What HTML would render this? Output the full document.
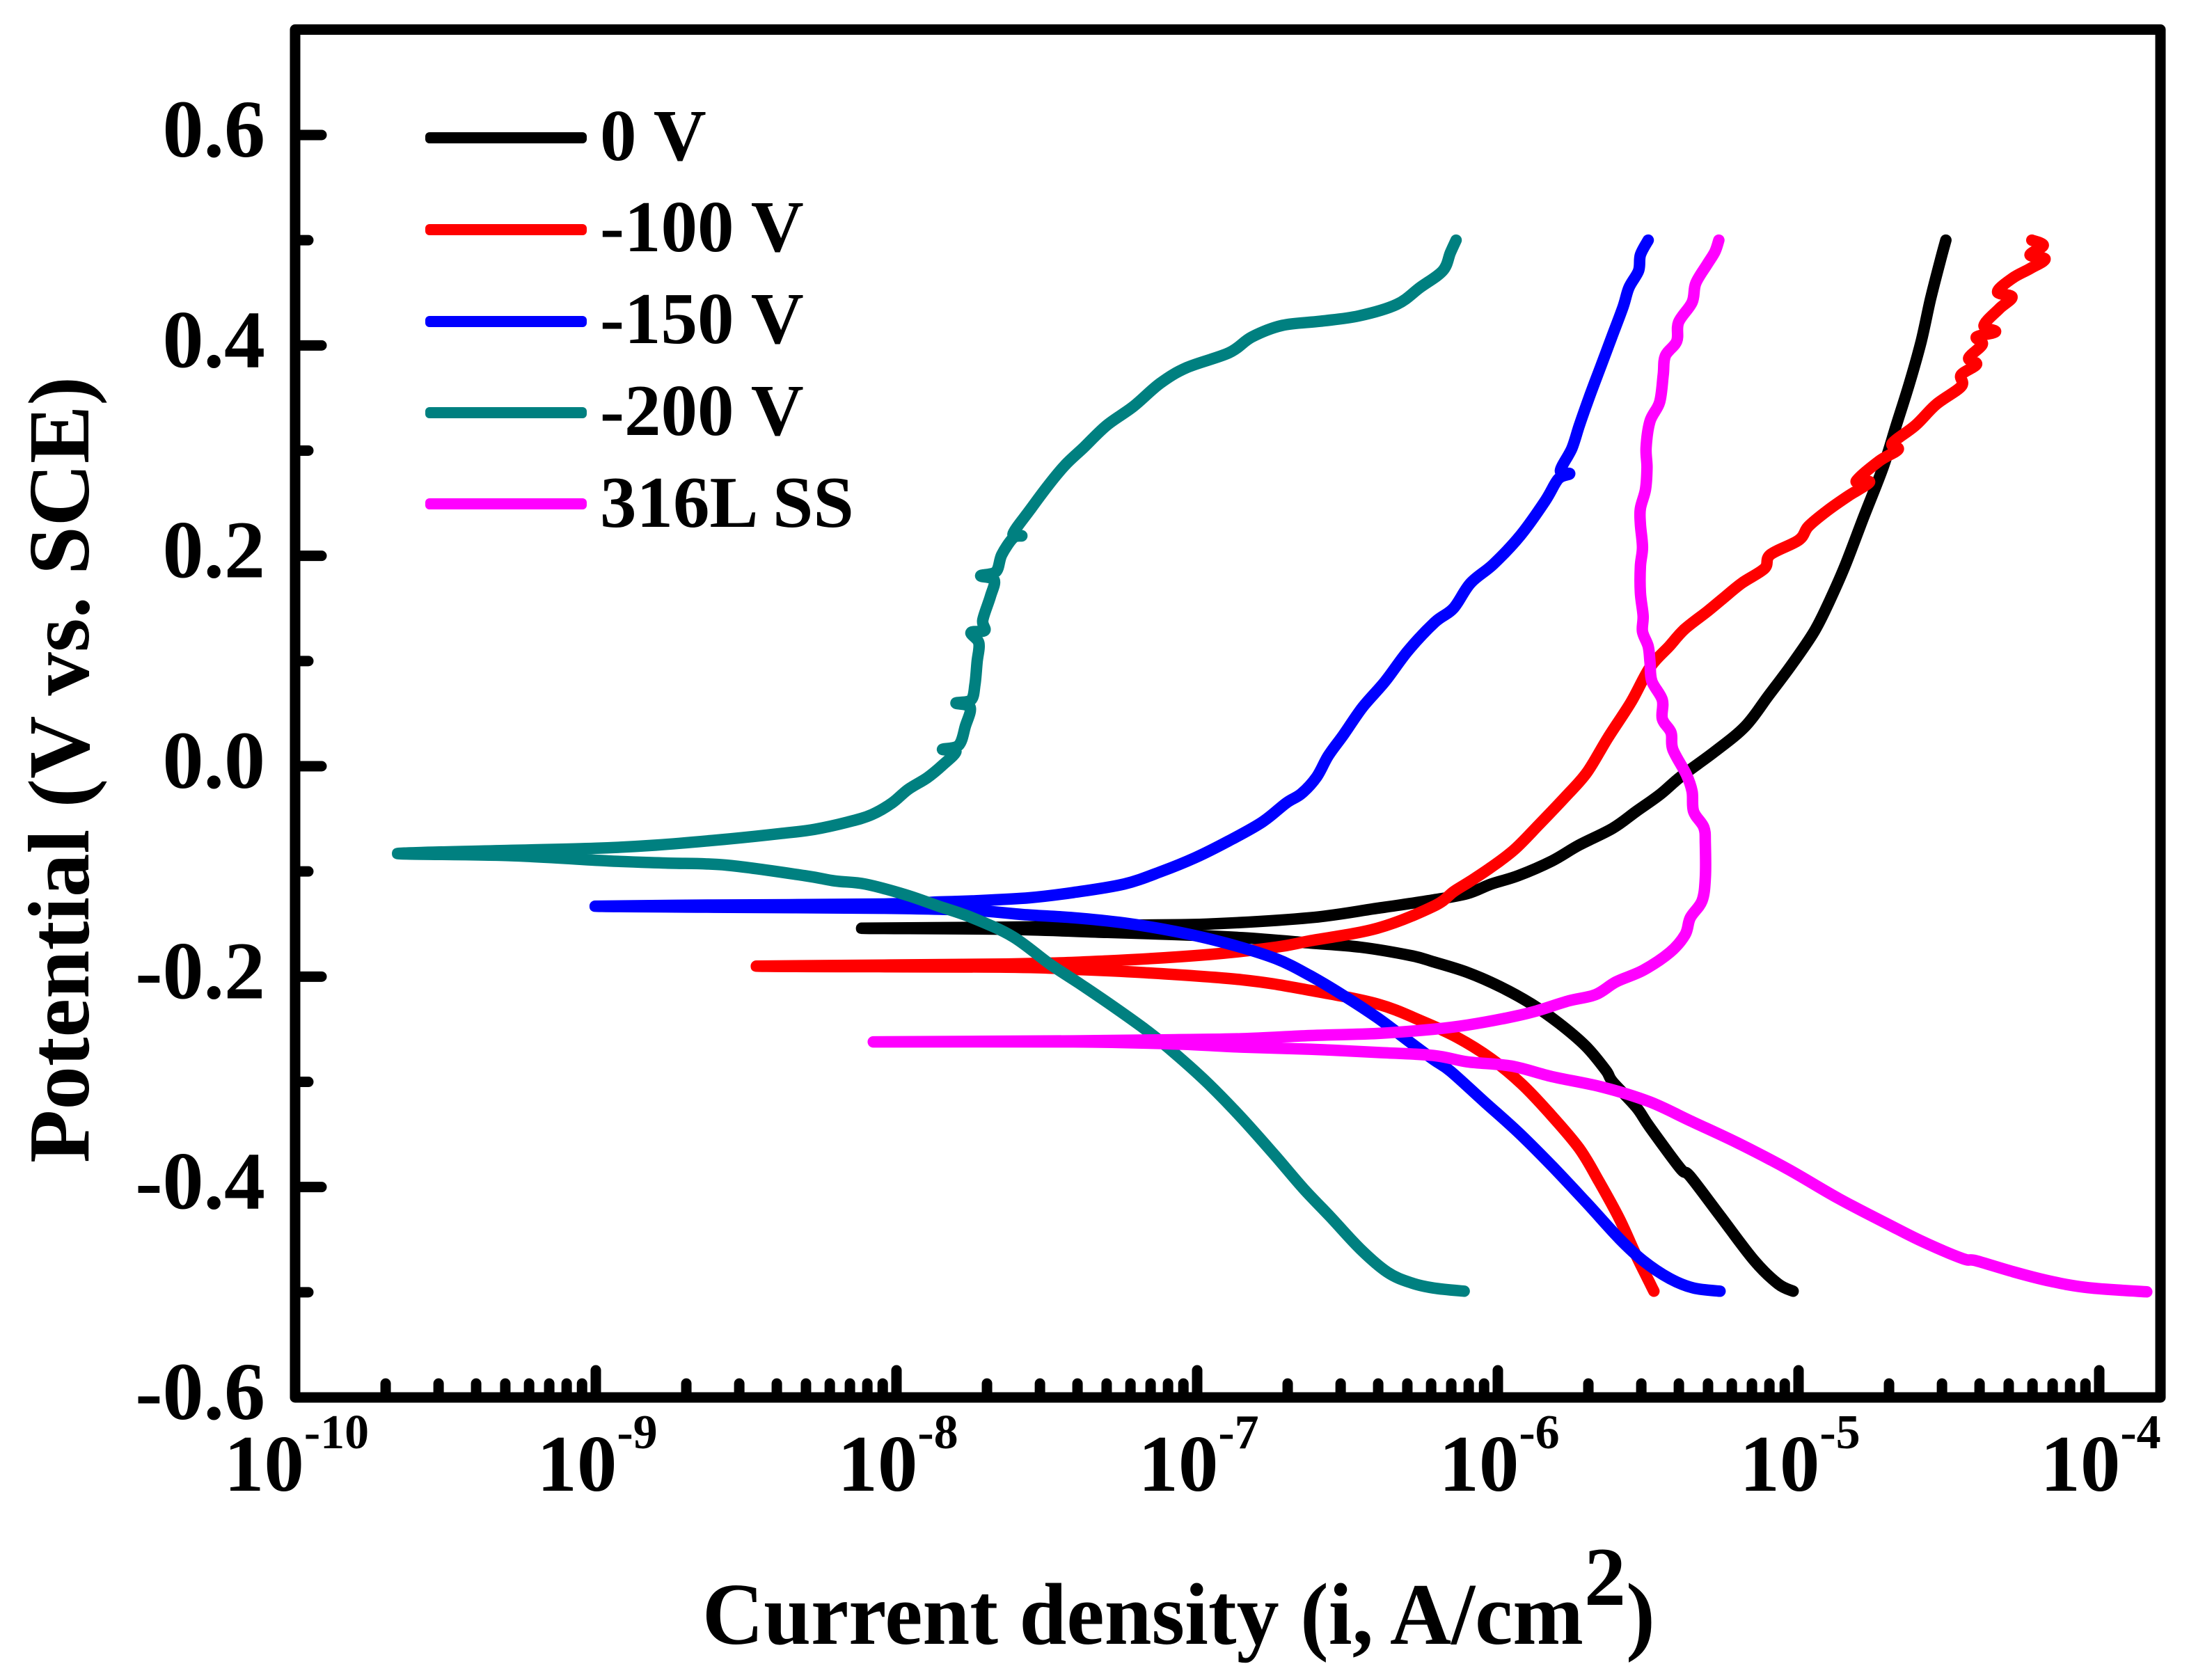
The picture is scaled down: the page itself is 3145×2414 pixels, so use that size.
<!DOCTYPE html>
<html lang="en">
<head>
<meta charset="utf-8">
<title>Potentiodynamic polarization curves</title>
<style>
html,body{margin:0;padding:0;background:#fff;}
svg{display:block;}
text{font-family:"Liberation Serif",serif;font-weight:bold;fill:#000;}
</style>
</head>
<body>
<svg id="chart" xmlns="http://www.w3.org/2000/svg" width="3145" height="2414" viewBox="0 0 3145 2414">
  <rect x="0" y="0" width="3145" height="2414" fill="#fff"/>
  <g id="series-layer"></g>
  <g id="tick-layer"></g>
  <rect x="424" y="42.5" width="2680" height="1965.5" fill="none" stroke="#000" stroke-width="15" stroke-linejoin="round"/>
  <g id="label-layer"></g>

  <g>
    <g>
      <rect x="611" y="190" width="232" height="16" rx="6" fill="#000000"/>
      <text x="862" y="230" font-size="105">0 V</text>
    </g>
    <g>
      <rect x="611" y="322" width="232" height="16" rx="6" fill="#ff0000"/>
      <text x="862" y="361" font-size="105">-100 V</text>
    </g>
    <g>
      <rect x="611" y="454" width="232" height="16" rx="6" fill="#0000ff"/>
      <text x="862" y="493" font-size="105">-150 V</text>
    </g>
    <g>
      <rect x="611" y="585" width="232" height="16" rx="6" fill="#008080"/>
      <text x="862" y="625" font-size="105">-200 V</text>
    </g>
    <g>
      <rect x="611" y="716" width="232" height="16" rx="6" fill="#ff00ff"/>
      <text x="862" y="757" font-size="105">316L SS</text>
    </g>
  </g>

  <text transform="translate(127,1106) rotate(-90)" text-anchor="middle" font-size="125" textLength="1130" lengthAdjust="spacingAndGlyphs">Potential (V vs. SCE)</text>
  <g>
    <text x="1009" y="2362" font-size="126" textLength="1266" lengthAdjust="spacingAndGlyphs">Current density (i, A/cm</text>
    <text x="2276" y="2306" font-size="120">2</text>
    <text x="2336" y="2362" font-size="126">)</text>
  </g>
</svg>

<script>
// Tick values and labels
const yMajorTicks = [0.6, 0.4, 0.2, 0, -0.2, -0.4, -0.6];
const yMajorLabels = ["0.6", "0.4", "0.2", "0.0", "-0.2", "-0.4", "-0.6"];
const yMinorTicks = [0.5, 0.3, 0.1, -0.1, -0.3, -0.5];
const xDecades = [-10, -9, -8, -7, -6, -5, -4];
const xMinorMultiples = [2, 3, 4, 5, 6, 7, 8, 9];

// Series: log10(current density, A/cm2) and potential (V vs. SCE)
const logCurrent0V = [-5.018,-5.068,-5.147,-5.259,-5.360,-5.394,-5.495,-5.540,-5.618,-5.641,-5.708,-5.798,-5.888,-5.989,-6.101,-6.213,-6.289,-6.457,-6.625,-6.850,-7.074,-7.299,-7.636,-8.116,-7.636,-7.187,-6.962,-6.625,-6.401,-6.213,-6.101,-6.022,-5.932,-5.820,-5.730,-5.618,-5.540,-5.461,-5.392,-5.278,-5.177,-5.100,-5.024,-4.948,-4.897,-4.846,-4.783,-4.719,-4.675,-4.631,-4.592,-4.561,-4.529,-4.510];
const potential0V = [-0.499,-0.492,-0.470,-0.428,-0.390,-0.382,-0.343,-0.324,-0.300,-0.289,-0.266,-0.244,-0.226,-0.210,-0.196,-0.186,-0.180,-0.172,-0.168,-0.163,-0.160,-0.158,-0.155,-0.154,-0.153,-0.151,-0.150,-0.144,-0.135,-0.127,-0.121,-0.112,-0.104,-0.090,-0.075,-0.059,-0.043,-0.027,-0.010,0.014,0.038,0.067,0.096,0.128,0.157,0.190,0.237,0.284,0.324,0.364,0.404,0.444,0.480,0.500];

const logCurrent100V = [-5.481,-5.495,-5.540,-5.596,-5.663,-5.730,-5.831,-5.921,-6.022,-6.134,-6.255,-6.401,-6.625,-6.850,-7.187,-7.411,-7.636,-8.466,-7.636,-7.299,-6.962,-6.738,-6.625,-6.401,-6.213,-6.146,-6.090,-6.022,-5.944,-5.865,-5.775,-5.704,-5.634,-5.557,-5.494,-5.430,-5.380,-5.304,-5.253,-5.189,-5.113,-5.094,-4.999,-4.967,-4.904,-4.834,-4.764,-4.808,-4.732,-4.669,-4.688,-4.611,-4.542,-4.459,-4.459,-4.408,-4.434,-4.389,-4.408,-4.345,-4.383,-4.332,-4.290,-4.338,-4.288,-4.230,-4.180,-4.230,-4.186,-4.224];
const potential100V = [-0.499,-0.491,-0.465,-0.430,-0.395,-0.363,-0.329,-0.302,-0.278,-0.258,-0.242,-0.226,-0.213,-0.203,-0.196,-0.193,-0.191,-0.190,-0.188,-0.185,-0.179,-0.172,-0.166,-0.154,-0.133,-0.119,-0.109,-0.096,-0.079,-0.056,-0.029,-0.006,0.027,0.061,0.094,0.114,0.130,0.147,0.159,0.174,0.188,0.201,0.215,0.228,0.243,0.257,0.270,0.271,0.290,0.301,0.307,0.324,0.344,0.361,0.372,0.382,0.388,0.401,0.408,0.413,0.419,0.435,0.446,0.451,0.464,0.473,0.482,0.486,0.495,0.500];

const logCurrent150V = [-5.261,-5.349,-5.428,-5.517,-5.596,-5.708,-5.820,-5.932,-6.045,-6.157,-6.213,-6.289,-6.401,-6.513,-6.625,-6.738,-6.906,-7.074,-7.243,-7.411,-7.579,-7.748,-8.048,-8.610,-9.002,-8.610,-8.048,-7.860,-7.748,-7.557,-7.411,-7.243,-7.119,-7.007,-6.895,-6.783,-6.704,-6.653,-6.602,-6.564,-6.513,-6.450,-6.374,-6.298,-6.209,-6.148,-6.091,-6.015,-5.926,-5.843,-5.799,-5.761,-5.792,-5.754,-5.729,-5.697,-5.659,-5.621,-5.583,-5.564,-5.532,-5.526,-5.500];
const potential150V = [-0.499,-0.496,-0.487,-0.470,-0.449,-0.414,-0.380,-0.348,-0.319,-0.290,-0.279,-0.263,-0.239,-0.218,-0.199,-0.183,-0.168,-0.157,-0.149,-0.144,-0.141,-0.137,-0.135,-0.134,-0.133,-0.132,-0.131,-0.129,-0.128,-0.125,-0.120,-0.112,-0.100,-0.087,-0.071,-0.053,-0.035,-0.026,-0.010,0.010,0.030,0.056,0.081,0.110,0.137,0.150,0.174,0.192,0.219,0.252,0.273,0.278,0.281,0.302,0.324,0.350,0.379,0.408,0.437,0.455,0.471,0.486,0.500];

const logCurrent200V = [-6.112,-6.213,-6.289,-6.367,-6.457,-6.558,-6.648,-6.738,-6.850,-6.962,-7.074,-7.164,-7.276,-7.389,-7.490,-7.613,-7.748,-7.860,-7.972,-8.104,-8.205,-8.306,-8.565,-8.767,-8.957,-9.283,-9.659,-9.283,-9.002,-8.800,-8.553,-8.385,-8.273,-8.161,-8.082,-8.015,-7.961,-7.898,-7.847,-7.802,-7.847,-7.793,-7.771,-7.755,-7.802,-7.752,-7.739,-7.732,-7.726,-7.752,-7.707,-7.713,-7.688,-7.675,-7.720,-7.669,-7.650,-7.612,-7.583,-7.612,-7.555,-7.498,-7.440,-7.377,-7.301,-7.212,-7.123,-7.034,-6.894,-6.818,-6.717,-6.590,-6.463,-6.336,-6.259,-6.183,-6.158,-6.139];
const potential200V = [-0.499,-0.496,-0.491,-0.481,-0.459,-0.428,-0.401,-0.371,-0.335,-0.302,-0.273,-0.252,-0.229,-0.207,-0.188,-0.162,-0.144,-0.133,-0.122,-0.112,-0.109,-0.104,-0.094,-0.092,-0.090,-0.085,-0.083,-0.080,-0.078,-0.075,-0.069,-0.064,-0.060,-0.053,-0.046,-0.035,-0.022,-0.011,0.001,0.014,0.016,0.020,0.038,0.056,0.060,0.063,0.078,0.099,0.117,0.127,0.129,0.139,0.161,0.177,0.181,0.185,0.201,0.217,0.219,0.221,0.244,0.266,0.286,0.303,0.324,0.342,0.364,0.379,0.393,0.408,0.419,0.423,0.428,0.439,0.455,0.471,0.488,0.500];

const logCurrent316L = [-3.842,-4.036,-4.161,-4.285,-4.410,-4.454,-4.586,-4.698,-4.866,-5.035,-5.203,-5.360,-5.495,-5.652,-5.820,-5.955,-6.101,-6.213,-6.401,-6.625,-6.850,-7.074,-7.411,-8.077,-7.411,-7.074,-6.850,-6.625,-6.401,-6.213,-6.101,-5.966,-5.876,-5.764,-5.674,-5.607,-5.517,-5.428,-5.377,-5.360,-5.321,-5.310,-5.310,-5.315,-5.349,-5.354,-5.373,-5.418,-5.424,-5.453,-5.453,-5.488,-5.494,-5.500,-5.519,-5.517,-5.526,-5.526,-5.519,-5.526,-5.526,-5.509,-5.504,-5.507,-5.494,-5.462,-5.450,-5.443,-5.405,-5.399,-5.354,-5.342,-5.304,-5.278,-5.265];
const potential316L = [-0.4996,-0.4957,-0.4896,-0.4806,-0.470,-0.468,-0.452,-0.436,-0.411,-0.383,-0.358,-0.337,-0.319,-0.305,-0.295,-0.285,-0.281,-0.275,-0.272,-0.269,-0.267,-0.264,-0.262,-0.262,-0.261,-0.260,-0.259,-0.256,-0.254,-0.250,-0.246,-0.239,-0.233,-0.223,-0.217,-0.205,-0.194,-0.177,-0.160,-0.144,-0.128,-0.106,-0.074,-0.058,-0.043,-0.024,-0.008,0.016,0.032,0.045,0.063,0.081,0.099,0.114,0.128,0.143,0.165,0.190,0.208,0.230,0.245,0.263,0.284,0.303,0.328,0.346,0.372,0.390,0.404,0.422,0.441,0.459,0.477,0.489,0.500];

// Axis functions
const xScale = function (logI) { return 424 + (logI + 10) * 432; };
const yScale = function (e) { return 1101 - e * 1511.7; };

const SVG_NS = "http://www.w3.org/2000/svg";
const seriesLayer = document.getElementById("series-layer");
const tickLayer = document.getElementById("tick-layer");
const labelLayer = document.getElementById("label-layer");

function drawSeries(name, color, xs, ys) {
  const line = document.createElementNS(SVG_NS, "path");
  
  
  const px = xs.map(xScale);
  const py = ys.map(yScale);
  let d = "M" + px[0].toFixed(1) + " " + py[0].toFixed(1);
  for (let i = 0; i < px.length - 1; i++) {
    const a = Math.max(i - 1, 0);
    const b = Math.min(i + 2, px.length - 1);
    const c1x = px[i] + (px[i + 1] - px[a]) / 6;
    const c1y = py[i] + (py[i + 1] - py[a]) / 6;
    const c2x = px[i + 1] - (px[b] - px[i]) / 6;
    const c2y = py[i + 1] - (py[b] - py[i]) / 6;
    d += "C" + c1x.toFixed(1) + " " + c1y.toFixed(1) + " " + c2x.toFixed(1) + " " + c2y.toFixed(1) + " " + px[i + 1].toFixed(1) + " " + py[i + 1].toFixed(1);
  }
  line.setAttribute("d", d);
  line.setAttribute("fill", "none");
  line.setAttribute("stroke", color);
  line.setAttribute("stroke-width", "16.5");
  line.setAttribute("stroke-linecap", "round");
  line.setAttribute("stroke-linejoin", "round");
  seriesLayer.appendChild(line);
}
drawSeries("series-0v", "#000000", logCurrent0V, potential0V);
drawSeries("series-minus-100v", "#ff0000", logCurrent100V, potential100V);
drawSeries("series-minus-150v", "#0000ff", logCurrent150V, potential150V);
drawSeries("series-minus-200v", "#008080", logCurrent200V, potential200V);
drawSeries("series-316l-ss", "#ff00ff", logCurrent316L, potential316L);

function drawTick(name, x1, y1, x2, y2) {
  const t = document.createElementNS(SVG_NS, "line");
  
  
  t.setAttribute("x1", x1);
  t.setAttribute("y1", y1);
  t.setAttribute("x2", x2);
  t.setAttribute("y2", y2);
  t.setAttribute("stroke", "#000");
  t.setAttribute("stroke-width", "15");
  t.setAttribute("stroke-linecap", "round");
  tickLayer.appendChild(t);
}

yMajorTicks.forEach(function (v, i) {
  const y = yScale(v);
  if (i < yMajorTicks.length - 1) {
    drawTick("y-major-tick", 428, y, 462, y);
  }
  const label = document.createElementNS(SVG_NS, "text");
  
  
  label.setAttribute("x", 381);
  label.setAttribute("y", y + 31);
  label.setAttribute("text-anchor", "end");
  label.setAttribute("font-size", "118");
  label.textContent = yMajorLabels[i];
  labelLayer.appendChild(label);
});
yMinorTicks.forEach(function (v) {
  const y = yScale(v);
  drawTick("y-minor-tick", 428, y, 443, y);
});

xDecades.forEach(function (d, i) {
  const x = xScale(d);
  if (i > 0) {
    drawTick("x-major-tick", x, 2005, x, 1969);
  }
  if (i < xDecades.length - 1) {
    xMinorMultiples.forEach(function (m) {
      drawTick("x-minor-tick", xScale(d + Math.log10(m)), 2005, xScale(d + Math.log10(m)), 1988);
    });
  }
  const label = document.createElementNS(SVG_NS, "text");
  
  
  label.setAttribute("x", x + 2);
  label.setAttribute("y", 2142);
  label.setAttribute("text-anchor", "middle");
  const base = document.createElementNS(SVG_NS, "tspan");
  base.setAttribute("font-size", "115");
  base.textContent = "10";
  const exp = document.createElementNS(SVG_NS, "tspan");
  exp.setAttribute("font-size", "70");
  exp.setAttribute("dy", "-61");
  exp.textContent = String(d);
  label.appendChild(base);
  label.appendChild(exp);
  labelLayer.appendChild(label);
});
</script>
</body>
</html>
